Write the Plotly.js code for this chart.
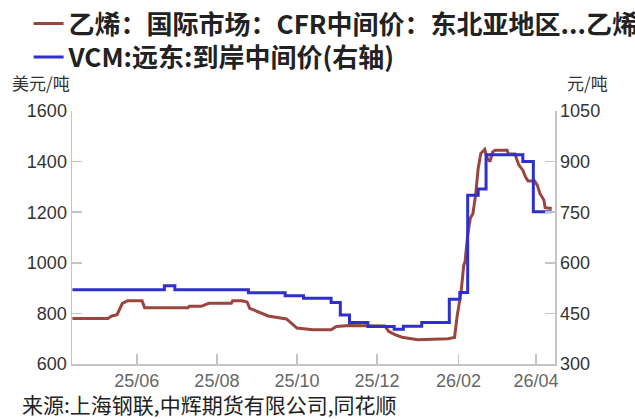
<!DOCTYPE html>
<html>
<head>
<meta charset="utf-8">
<script src="https://cdn.plot.ly/plotly-3.0.1.min.js"></script>
<style>html,body{margin:0;padding:0;background:#fff;}#chart{width:635px;height:419px;}</style>
</head>
<body>
<div id="chart"></div>
<script>
// Ethylene CFR Northeast Asia (USD/t, left axis)
const ethDates = ['2025-04-13','2025-05-10','2025-05-13','2025-05-17','2025-05-21','2025-05-25','2025-06-05','2025-06-07','2025-07-10','2025-07-11','2025-07-20','2025-07-26','2025-08-12','2025-08-13','2025-08-20','2025-08-24','2025-08-26','2025-08-31','2025-09-09','2025-09-23','2025-10-01','2025-10-13','2025-10-27','2025-10-31','2025-11-10','2025-12-07','2025-12-10','2025-12-15','2025-12-20','2026-01-01','2026-01-15','2026-01-24','2026-01-29','2026-01-31','2026-02-03','2026-02-05','2026-02-06','2026-02-08','2026-02-10','2026-02-12','2026-02-14','2026-02-16','2026-02-18','2026-02-21','2026-02-23','2026-02-25','2026-02-27','2026-03-01','2026-03-10','2026-03-11','2026-03-16','2026-03-19','2026-03-22','2026-03-24','2026-03-26','2026-03-31','2026-04-02','2026-04-04','2026-04-07','2026-04-08','2026-04-13'];
const ethValues = [780,780,790,795,840,850,850,822,822,828,828,840,840,850,850,845,820,810,790,778,742,735,735,748,752,750,728,715,706,696,700,700,705,790,886,990,1004,1110,1176,1195,1267,1373,1432,1448,1412,1400,1438,1445,1445,1430,1430,1386,1366,1340,1323,1323,1307,1274,1248,1218,1215];

// VCM Far East CFR mid price (right axis)
const vcmDates = ['2025-04-13','2025-06-22','2025-06-30','2025-08-25','2025-09-22','2025-10-06','2025-10-27','2025-11-03','2025-11-10','2025-11-24','2025-12-14','2025-12-21','2026-01-04','2026-01-25','2026-02-02','2026-02-08','2026-02-16','2026-02-22','2026-03-22','2026-03-30','2026-04-13'];
const vcmValues = [520,532,520,511,502,495,482,445,423,411,403,412,423,492,512,800,819,920,900,751,751];

const seriesNames = ['乙烯：国际市场：CFR中间价：东北亚地区...乙烯', 'VCM:远东:到岸中间价(右轴)'];
const xTickVals = ['2025-06-01','2025-08-01','2025-10-01','2025-12-01','2026-02-01','2026-04-01'];
const xTickText = ['25/06','25/08','25/10','25/12','26/02','26/04'];
const leftTicks = [600,800,1000,1200,1400,1600];
const rightTicks = [300,450,600,750,900,1050];

const FONT = 'Liberation Sans, Arial, Noto Sans CJK SC, sans-serif';
const CJK = 'Noto Sans CJK SC, sans-serif';

const traces = [
  {x: ethDates, y: ethValues, name: seriesNames[0], type: 'scatter', mode: 'lines',
   line: {color: '#9a463f', width: 3}, yaxis: 'y', legend: 'legend'},
  {x: vcmDates, y: vcmValues, name: seriesNames[1], type: 'scatter', mode: 'lines',
   line: {color: '#2f2fcb', width: 3, shape: 'hv'}, yaxis: 'y2', legend: 'legend2'}
];

function axisBase() {
  return {showgrid: false, zeroline: false, showline: true, linecolor: '#c4c4c4', linewidth: 1.5,
    ticks: 'inside', ticklen: 10, tickcolor: '#c4c4c4', tickwidth: 1.5};
}

const xaxis = axisBase();
xaxis.type = 'date';
xaxis.range = ['2025-04-12 16:00', '2026-04-15 12:00'];
xaxis.tickmode = 'array';
xaxis.tickvals = xTickVals;
xaxis.ticktext = xTickText;
xaxis.tickfont = {family: FONT, size: 18, color: '#666'};

const yaxis = axisBase();
yaxis.range = [600, 1600];
yaxis.tickmode = 'array';
yaxis.tickvals = leftTicks;
yaxis.tickfont = {family: FONT, size: 18, color: '#333'};

const yaxis2 = axisBase();
yaxis2.range = [300, 1050];
yaxis2.tickmode = 'array';
yaxis2.tickvals = rightTicks;
yaxis2.overlaying = 'y';
yaxis2.side = 'right';
yaxis2.tickfont = {family: FONT, size: 18, color: '#333'};

const legendFont = {family: CJK, size: 26, color: '#222', weight: 'bold'};

const layout = {
  width: 635, height: 419,
  margin: {l: 72, r: 80, t: 111, b: 55, autoexpand: false},
  paper_bgcolor: '#fff', plot_bgcolor: '#fff',
  showlegend: true,
  legend: {orientation: 'h', xref: 'container', yref: 'container', x: 0.045, y: 1, xanchor: 'left', yanchor: 'top',
    font: legendFont, bgcolor: 'rgba(0,0,0,0)', itemwidth: 30},
  legend2: {orientation: 'h', xref: 'container', yref: 'container', x: 0.045, y: 0.92, xanchor: 'left', yanchor: 'top',
    font: legendFont, bgcolor: 'rgba(0,0,0,0)', itemwidth: 30},
  xaxis: xaxis, yaxis: yaxis, yaxis2: yaxis2,
  annotations: [
    {text: '美元/吨', xref: 'paper', yref: 'paper', x: -0.128, y: 1.113, xanchor: 'left', yanchor: 'middle',
     showarrow: false, font: {family: CJK, size: 17, color: '#333'}},
    {text: '元/吨', xref: 'paper', yref: 'paper', x: 1.02, y: 1.113, xanchor: 'left', yanchor: 'middle',
     showarrow: false, font: {family: CJK, size: 17, color: '#333'}},
    {text: '来源:上海钢联,中辉期货有限公司,同花顺', xref: 'paper', yref: 'paper', x: -0.108, y: -0.158,
     xanchor: 'left', yanchor: 'middle', showarrow: false, font: {family: CJK, size: 21, color: '#222'}}
  ]
};

Plotly.newPlot('chart', traces, layout, {displayModeBar: false, staticPlot: true});
</script>
</body>
</html>
